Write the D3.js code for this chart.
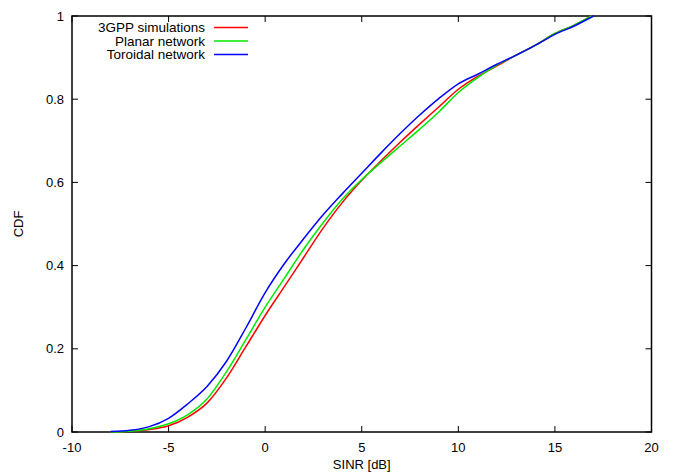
<!DOCTYPE html>
<html><head><meta charset="utf-8">
<script src="https://cdn.jsdelivr.net/npm/d3@7"></script>
<style>body{margin:0;background:#fff}svg{display:block}text{font-family:"Liberation Sans",Arial,sans-serif}</style>
</head><body><svg id="c" width="673" height="472"></svg>
<script>
const xTicks = [-10,-5,0,5,10,15,20];
const yTicks = [0,0.2,0.4,0.6,0.8,1];
const yTickLabels = ["0","0.2","0.4","0.6","0.8","1"];
const seriesNames = ["3GPP simulations","Planar network","Toroidal network"];
const seriesColors = ["#ff0000","#00e800","#0000ff"];
const sinrRed   = [-8,-7,-6,-5,-4,-3,-2,-1,0,1,2,3,4,5,6,7,8,9,10,11,12,13,14,15,16,16.9];
const cdfRed    = [0,0.002,0.006,0.015,0.036,0.07,0.13,0.205,0.28,0.35,0.42,0.49,0.552,0.605,0.652,0.697,0.74,0.782,0.824,0.855,0.88,0.906,0.93,0.958,0.978,1.0];
const sinrGreen = [-8,-7,-6,-5,-4,-3,-2,-1,0,1,2,3,4,5,6,7,8,9,10,11,12,13,14,15,16,16.9];
const cdfGreen  = [0,0.002,0.008,0.02,0.042,0.08,0.145,0.222,0.3,0.37,0.44,0.503,0.56,0.607,0.648,0.688,0.728,0.77,0.816,0.852,0.882,0.906,0.93,0.958,0.978,1.0];
const sinrBlue  = [-8,-7,-6,-5,-4,-3,-2,-1,0,1,2,3,4,5,6,7,8,9,10,11,12,13,14,15,16,17];
const cdfBlue   = [0.001,0.004,0.013,0.033,0.068,0.11,0.17,0.25,0.335,0.405,0.465,0.522,0.573,0.622,0.671,0.718,0.762,0.802,0.837,0.86,0.884,0.906,0.93,0.956,0.976,1.0];

const svg = d3.select("#c");
const L=72, R=651.5, T=16, B=432;
const x = d3.scaleLinear().domain([-10,20]).range([L,R]);
const y = d3.scaleLinear().domain([0,1]).range([B,T]);
const fs = 13;

const tl = 6;
const g = svg.append("g").attr("stroke","#000").attr("stroke-width",1);
xTicks.forEach(t=>{
  g.append("line").attr("x1",x(t)).attr("x2",x(t)).attr("y1",B).attr("y2",B-tl);
  g.append("line").attr("x1",x(t)).attr("x2",x(t)).attr("y1",T).attr("y2",T+tl);
});
yTicks.forEach(t=>{
  g.append("line").attr("x1",L).attr("x2",L+tl).attr("y1",y(t)).attr("y2",y(t));
  g.append("line").attr("x1",R).attr("x2",R-tl).attr("y1",y(t)).attr("y2",y(t));
});
svg.append("rect").attr("x",L).attr("y",T).attr("width",R-L).attr("height",B-T)
  .attr("fill","none").attr("stroke","#000").attr("stroke-width",1.5);

xTicks.forEach(t=>{
  svg.append("text").attr("x",x(t)).attr("y",B+20).attr("text-anchor","middle")
    .attr("font-size",fs).text(t);
});
yTicks.forEach((t,i)=>{
  svg.append("text").attr("x",L-8).attr("y",y(t)+4.5).attr("text-anchor","end")
    .attr("font-size",fs).text(yTickLabels[i]);
});
svg.append("text").attr("x",(L+R)/2).attr("y",B+37).attr("text-anchor","middle").attr("font-size",fs).text("SINR [dB]");
svg.append("text").attr("transform",`translate(23,${(T+B)/2}) rotate(-90)`).attr("text-anchor","middle").attr("font-size",fs).text("CDF");

const line = d3.line().x(d=>x(d[0])).y(d=>y(d[1])).curve(d3.curveMonotoneX);
const data = [
  d3.zip(sinrRed,cdfRed),
  d3.zip(sinrGreen,cdfGreen),
  d3.zip(sinrBlue,cdfBlue)
];
data.forEach((d,i)=>{
  svg.append("path").attr("d",line(d)).attr("fill","none")
    .attr("stroke",seriesColors[i]).attr("stroke-width",1.5);
});

seriesNames.forEach((n,i)=>{
  const yy = 27.5 + i*13.5;
  svg.append("text").attr("x",205).attr("y",yy+4.5).attr("text-anchor","end").attr("font-size",13.5).text(n);
  svg.append("line").attr("x1",214).attr("x2",248).attr("y1",yy).attr("y2",yy)
    .attr("stroke",seriesColors[i]).attr("stroke-width",1.5);
});
</script></body></html>
